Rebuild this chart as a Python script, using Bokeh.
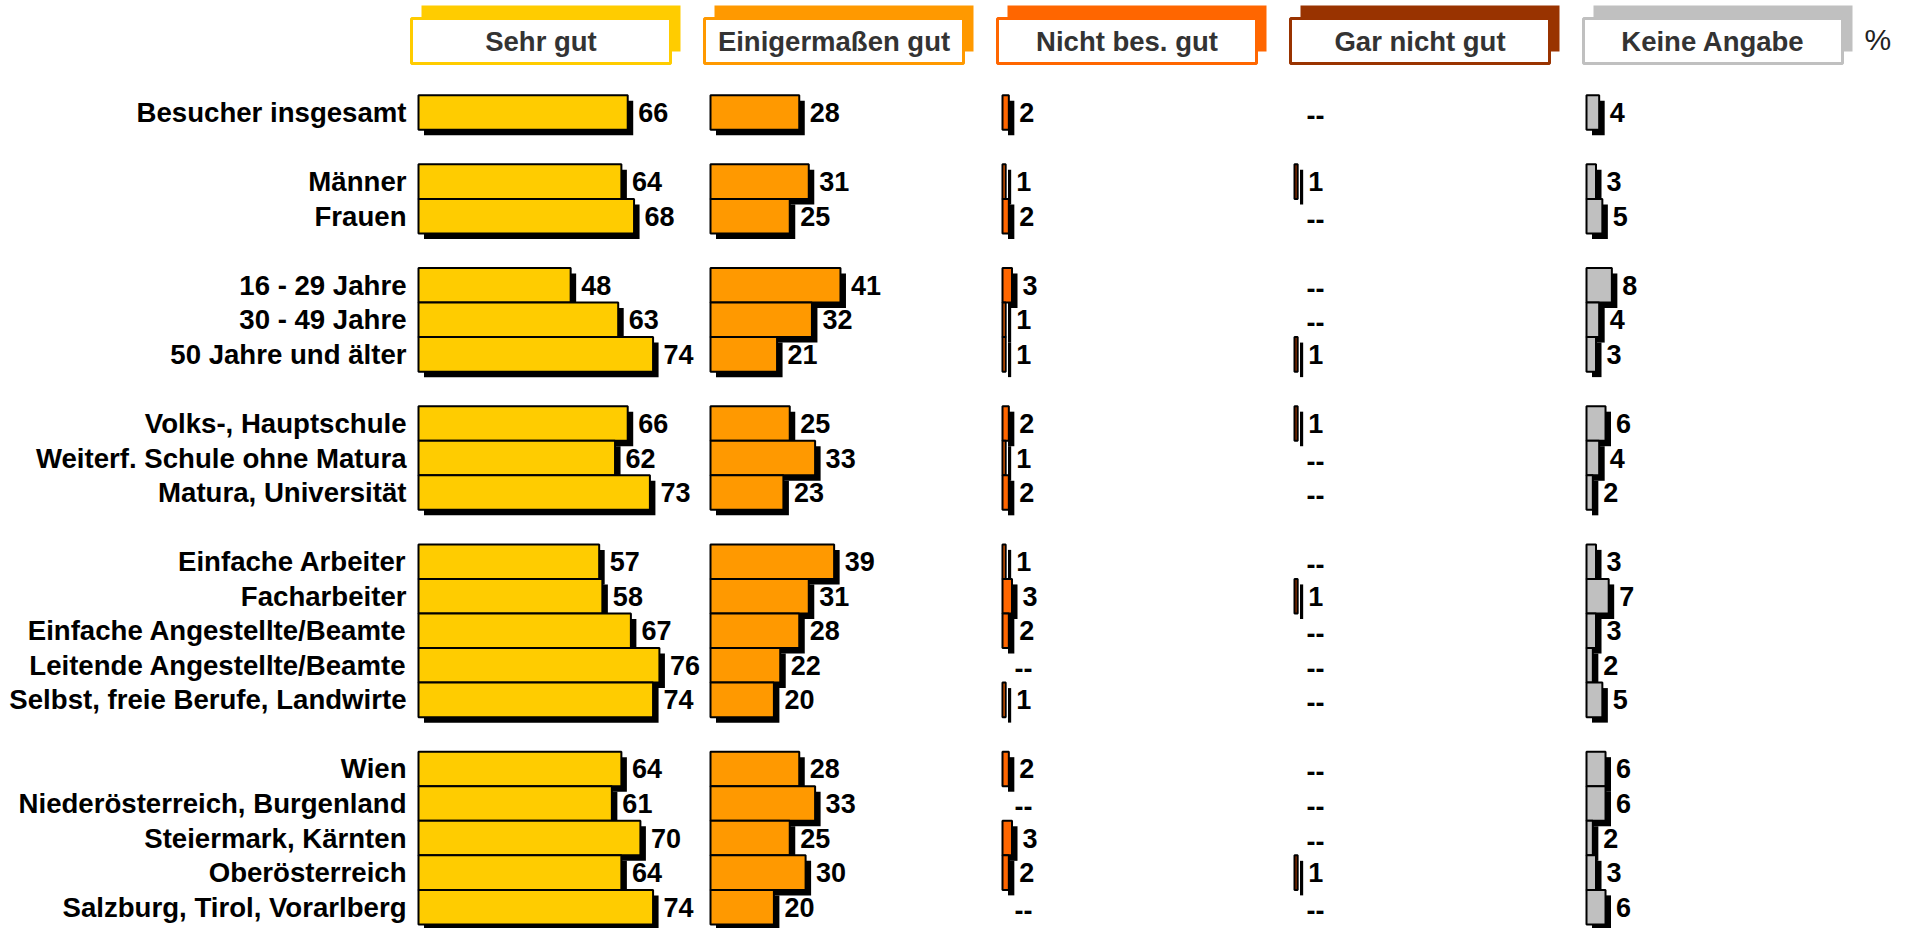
from bokeh.plotting import figure
from bokeh.models import Range1d, ColumnDataSource
from bokeh.core.properties import value
from bokeh.embed import file_html
from bokeh.resources import INLINE

# ---------------- data ----------------
groups = [
    ["Besucher insgesamt"],
    ["Männer", "Frauen"],
    ["16 - 29 Jahre", "30 - 49 Jahre", "50 Jahre und älter"],
    ["Volks-, Hauptschule", "Weiterf. Schule ohne Matura", "Matura, Universität"],
    ["Einfache Arbeiter", "Facharbeiter", "Einfache Angestellte/Beamte",
     "Leitende Angestellte/Beamte", "Selbst, freie Berufe, Landwirte"],
    ["Wien", "Niederösterreich, Burgenland", "Steiermark, Kärnten",
     "Oberösterreich", "Salzburg, Tirol, Vorarlberg"],
]
sehr_gut         = [66, 64, 68, 48, 63, 74, 66, 62, 73, 57, 58, 67, 76, 74, 64, 61, 70, 64, 74]
einigermassen    = [28, 31, 25, 41, 32, 21, 25, 33, 23, 39, 31, 28, 22, 20, 28, 33, 25, 30, 20]
nicht_bes_gut    = [2, 1, 2, 3, 1, 1, 2, 1, 2, 1, 3, 2, 0, 1, 2, 0, 3, 2, 0]
gar_nicht_gut    = [0, 1, 0, 0, 0, 1, 1, 0, 0, 0, 1, 0, 0, 0, 0, 0, 0, 1, 0]
keine_angabe     = [4, 3, 5, 8, 4, 3, 6, 4, 2, 3, 7, 3, 2, 5, 6, 6, 2, 3, 6]
headers = ["Sehr gut", "Einigermaßen gut", "Nicht bes. gut", "Gar nicht gut", "Keine Angabe"]
unit_label = "%"
series = [sehr_gut, einigermassen, nicht_bes_gut, gar_nicht_gut, keine_angabe]

# ---------------- styling / layout ----------------
colors = ["#FFCC00", "#FF9900", "#FF6600", "#993300", "#C0C0C0"]
W, H = 1908, 928
K = 3.17          # px per percentage point
PITCH = 34.55     # px per row slot
X0 = 418          # px of first column origin
Y0 = 112          # px of first row centre
COL_STEP = 292 / K  # column spacing in percentage units
FONT = value("Liberation Sans")

def xd(px):  # px from left -> percentage units
    return (px - X0) / K

def yd(py):  # px from top -> slot units
    return (py - Y0) / PITCH

p = figure(width=W, height=H, output_backend="svg", toolbar_location=None,
           x_range=Range1d(xd(0), xd(W)), y_range=Range1d(yd(H), yd(0)),
           x_axis_type=None, y_axis_type=None, min_border=0,
           outline_line_color=None, background_fill_color="white")
p.grid.visible = False

# row slots (one blank slot between groups)
labels, ys = [], []
slot = 0
for g in groups:
    for c in g:
        labels.append(c)
        ys.append(slot)
        slot += 1
    slot += 1

BH = 1.0
dx, dy = 5.5 / K, 5.5 / PITCH

shadow = dict(left=[], right=[], top=[], bottom=[])
bars = dict(left=[], right=[], top=[], bottom=[], color=[])
num = dict(x=[], y=[], t=[])
dash = dict(x=[], y=[], t=[])
for j, vals in enumerate(series):
    off = j * COL_STEP
    for v, y in zip(vals, ys):
        if v > 0:
            bars["left"].append(off); bars["right"].append(off + v)
            bars["top"].append(y - BH / 2); bars["bottom"].append(y + BH / 2)
            bars["color"].append(colors[j])
            shadow["left"].append(off + dx); shadow["right"].append(off + v + dx)
            shadow["top"].append(y - BH / 2 + dy); shadow["bottom"].append(y + BH / 2 + dy)
            num["x"].append(off + v + 10.5 / K); num["y"].append(y); num["t"].append(str(v))
        else:
            dash["x"].append(off + 12 / K); dash["y"].append(y); dash["t"].append("--")

# header boxes
for j, h in enumerate(headers):
    fl_px = 411 + 293 * j
    fl, fr = xd(fl_px), xd(fl_px + 259)
    ft, fb = yd(18), yd(63)
    p.quad(left=xd(fl_px + 10), right=xd(fl_px + 269), top=yd(5), bottom=yd(51),
           fill_color=colors[j], line_color=None)
    p.quad(left=fl, right=fr, top=ft, bottom=fb, fill_color="white",
           line_color=colors[j], line_width=3)
    p.text(x=[(fl + fr) / 2], y=[(ft + fb) / 2], text=[h], text_font=FONT,
           text_font_style="bold", text_font_size="27.5px", text_color="#333333",
           text_align="center", text_baseline="middle")

p.text(x=[xd(1864)], y=[yd(39)], text=[unit_label], text_font=FONT,
       text_font_size="30px", text_color="#222222", text_align="left",
       text_baseline="middle")

p.quad(source=ColumnDataSource(shadow), left="left", right="right", top="top",
       bottom="bottom", fill_color="black", line_color=None)
p.quad(source=ColumnDataSource(bars), left="left", right="right", top="top",
       bottom="bottom", fill_color="color", line_color="black", line_width=2)

p.text(source=ColumnDataSource(num), x="x", y="y", text="t", text_font=FONT,
       text_font_style="bold", text_font_size="27px", text_color="black",
       text_align="left", text_baseline="middle")
p.text(source=ColumnDataSource(dash), x="x", y="y", text="t", text_font=FONT,
       text_font_style="bold", text_font_size="27px", text_color="black",
       text_align="left", text_baseline="middle", y_offset=3)

p.text(x=[xd(406)] * len(labels), y=ys, text=labels, text_font=FONT,
       text_font_style="bold", text_font_size="27.6px", text_color="black",
       text_align="right", text_baseline="middle")

open("out.html", "w").write(file_html(p, INLINE))
